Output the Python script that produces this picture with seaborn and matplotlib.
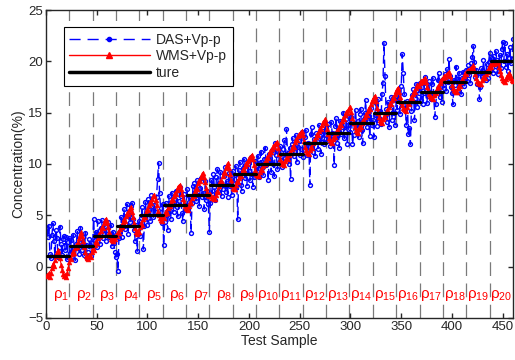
import numpy as np
import pandas as pd
import seaborn as sns
import matplotlib.pyplot as plt
from matplotlib.lines import Line2D

# segment length and true concentration levels
seg_len = 23
levels = list(range(1, 21))

# WMS+Vp-p predictions, one row per segment
wms = [
    [-0.8, -0.9, -0.6, -1.0, -0.6, -0.1, 0.3, 0.1, 0.6, 1.0, 1.4, 1.6, 1.2, 0.8, 0.2, -0.3, -0.7, -0.9, -0.8, -1.0, -0.6, -0.1, 0.4],
    [0.9, 0.7, 1.2, 1.5, 1.3, 1.8, 2.1, 1.9, 2.4, 2.8, 3.1, 3.4, 3.0, 2.5, 1.9, 1.4, 1.0, 0.8, 0.7, 1.1, 0.9, 1.4, 1.8],
    [1.6, 2.1, 2.5, 2.3, 2.8, 3.2, 3.0, 3.5, 3.9, 3.8, 4.2, 4.5, 4.6, 4.3, 3.9, 3.4, 3.0, 2.7, 2.6, 2.5, 2.9, 2.7, 3.1],
    [3.0, 3.4, 3.3, 3.7, 4.0, 3.9, 4.3, 4.6, 4.4, 4.9, 5.2, 5.1, 5.5, 5.7, 5.8, 5.3, 4.8, 4.2, 3.8, 3.4, 3.2, 3.5, 3.4],
    [3.9, 4.2, 4.1, 4.6, 4.9, 4.8, 5.3, 5.6, 5.5, 6.0, 6.3, 6.2, 6.6, 6.9, 7.0, 6.5, 6.0, 5.4, 5.0, 4.7, 4.5, 4.4, 4.8],
    [4.7, 5.1, 5.4, 5.2, 5.7, 6.0, 5.9, 6.3, 6.6, 6.5, 6.9, 7.2, 7.1, 7.5, 7.8, 7.9, 8.0, 7.6, 7.1, 6.6, 6.2, 5.9, 5.7],
    [5.6, 5.5, 5.9, 6.3, 6.2, 6.7, 7.0, 6.9, 7.4, 7.7, 7.6, 8.1, 8.4, 8.3, 8.7, 9.0, 9.1, 8.7, 8.2, 7.7, 7.3, 7.0, 6.9],
    [7.1, 6.9, 6.7, 6.8, 6.6, 6.6, 7.0, 7.4, 7.3, 7.9, 8.3, 8.2, 8.8, 9.2, 9.1, 9.6, 9.9, 10.1, 9.6, 9.0, 8.4, 8.0, 7.7],
    [7.6, 7.6, 8.0, 8.3, 8.2, 8.6, 8.9, 8.8, 9.2, 9.5, 9.4, 9.8, 10.1, 10.0, 10.3, 10.6, 10.5, 10.8, 10.9, 10.5, 9.9, 9.4, 9.0],
    [8.9, 8.8, 8.8, 9.2, 9.5, 9.4, 9.8, 10.1, 10.0, 10.4, 10.7, 10.6, 11.0, 11.3, 11.2, 11.5, 11.8, 11.7, 11.9, 12.0, 12.1, 11.6, 11.0],
    [10.5, 10.2, 10.0, 10.1, 9.9, 10.3, 10.6, 10.5, 10.9, 11.2, 11.1, 11.5, 11.8, 11.7, 12.1, 12.4, 12.3, 12.7, 12.9, 12.8, 13.1, 13.2, 12.8],
    [12.2, 11.7, 11.4, 11.2, 11.1, 11.0, 11.4, 11.7, 11.6, 12.0, 12.3, 12.2, 12.6, 12.9, 12.8, 13.2, 13.5, 13.4, 13.8, 14.1, 14.2, 14.4, 14.0],
    [13.4, 12.9, 12.5, 12.3, 12.1, 12.0, 12.4, 12.7, 12.6, 13.0, 13.3, 13.2, 13.6, 13.9, 13.8, 14.2, 14.5, 14.4, 14.8, 15.1, 15.0, 15.3, 15.5],
    [15.6, 15.1, 14.5, 14.0, 13.6, 13.3, 13.1, 13.0, 13.4, 13.7, 13.6, 14.0, 14.3, 14.2, 14.6, 14.9, 14.8, 15.2, 15.5, 15.4, 15.8, 16.1, 16.3],
    [16.5, 16.6, 16.1, 15.5, 15.0, 14.6, 14.3, 14.1, 14.0, 14.4, 14.7, 14.6, 15.0, 15.3, 15.2, 15.6, 15.9, 15.8, 16.2, 16.5, 16.4, 16.8, 17.1],
    [17.3, 17.4, 17.0, 16.5, 16.0, 15.7, 15.5, 15.4, 15.3, 15.2, 15.6, 15.9, 15.8, 16.2, 16.5, 16.4, 16.8, 17.1, 17.0, 17.4, 17.7, 17.6, 17.9],
    [18.1, 18.0, 18.2, 18.3, 18.4, 18.0, 17.5, 17.1, 16.8, 16.6, 16.5, 16.4, 16.3, 16.7, 17.0, 16.9, 17.3, 17.6, 17.5, 17.9, 18.2, 18.1, 18.4],
    [18.6, 18.5, 18.7, 18.8, 18.9, 19.0, 18.6, 18.1, 17.7, 17.4, 17.2, 17.1, 17.0, 17.0, 17.4, 17.7, 17.6, 18.0, 18.3, 18.2, 18.6, 18.9, 18.8],
    [19.1, 19.2, 19.1, 19.3, 19.4, 19.5, 19.6, 19.2, 18.8, 18.4, 18.1, 17.9, 17.9, 17.8, 17.8, 18.2, 18.5, 18.4, 18.8, 19.1, 19.0, 19.4, 19.6],
    [19.5, 19.7, 19.8, 19.7, 19.8, 19.9, 19.8, 19.9, 19.5, 19.1, 18.7, 18.4, 18.2, 18.1, 18.0, 18.3, 18.6, 18.5, 18.9, 18.7, 18.4, 18.2, 18.1],
]

# DAS+Vp-p predictions, one row per segment
das = [
    [3.8, 2.9, 4.0, 1.2, 0.8, 3.1, 4.2, 2.5, 1.0, 3.6, 2.8, 0.9, 1.5, 3.9, 2.2, 1.1, 2.7, 3.0, 1.6, 2.9, 0.7, 2.4, 2.8],
    [1.3, 2.6, 1.0, 3.1, 1.8, 0.6, 2.2, 3.5, 2.0, 1.2, 3.8, 2.4, 1.6, 2.9, 1.1, 3.3, 2.1, 0.8, 1.4, 2.7, 1.0, 2.3, 1.9],
    [4.6, 2.6, 3.4, 1.9, 4.4, 3.0, 2.2, 3.8, 4.5, 2.8, 3.2, 4.0, 2.5, 3.6, 4.3, 2.9, 3.1, 4.1, 2.0, 3.4, 2.3, 1.4, 0.9],
    [1.2, -0.4, 2.8, 3.5, 4.8, 2.9, 4.4, 5.6, 3.7, 4.9, 6.1, 3.2, 5.0, 4.3, 5.9, 6.2, 4.6, 3.6, 2.5, 4.1, 1.5, 3.2, 4.4],
    [3.0, 4.7, 5.8, 1.7, 4.0, 6.3, 5.2, 4.1, 6.6, 5.5, 4.4, 7.0, 5.9, 4.8, 6.0, 5.3, 6.8, 8.5, 10.1, 7.2, 5.7, 4.2, 6.1],
    [2.1, 4.3, 6.2, 5.0, 3.6, 6.9, 5.4, 4.6, 7.2, 6.1, 5.3, 6.6, 7.4, 5.8, 4.9, 6.4, 7.8, 6.9, 5.2, 4.4, 7.1, 6.0, 5.5],
    [7.6, 5.8, 6.3, 6.7, 3.3, 6.2, 7.9, 8.1, 7.3, 6.4, 8.4, 7.0, 5.9, 7.7, 8.6, 6.8, 7.2, 5.6, 8.3, 6.5, 7.4, 6.1, 3.4],
    [6.2, 8.4, 7.1, 9.0, 7.8, 6.5, 8.7, 9.5, 7.4, 8.1, 9.2, 6.9, 7.6, 8.8, 9.7, 7.3, 8.3, 6.8, 9.1, 7.9, 8.5, 7.0, 9.3],
    [7.7, 8.9, 9.8, 8.2, 4.6, 9.4, 10.2, 8.0, 7.4, 9.6, 10.5, 8.6, 9.1, 7.9, 10.0, 9.3, 8.4, 10.7, 9.0, 7.8, 8.7, 10.3, 9.5],
    [9.3, 10.8, 8.7, 10.1, 11.2, 9.6, 8.9, 10.5, 11.6, 9.9, 10.3, 8.4, 11.0, 10.6, 9.2, 11.4, 10.0, 8.8, 12.0, 10.9, 9.5, 11.3, 10.2],
    [11.8, 10.4, 9.7, 11.5, 12.3, 10.6, 13.4, 11.1, 10.0, 11.6, 8.5, 11.9, 12.5, 10.8, 11.3, 12.8, 10.2, 11.7, 12.2, 10.9, 11.5, 13.1, 10.7],
    [11.4, 12.6, 13.3, 10.9, 12.0, 11.7, 8.0, 12.9, 13.6, 11.2, 12.4, 10.8, 13.0, 12.2, 11.5, 13.8, 12.7, 11.0, 12.5, 13.2, 11.9, 14.0, 12.8],
    [12.2, 13.9, 12.6, 11.8, 14.1, 13.0, 12.4, 9.9, 13.7, 14.5, 12.0, 13.3, 11.6, 14.2, 12.9, 13.6, 15.0, 12.5, 13.2, 14.4, 11.9, 13.8, 14.7],
    [13.1, 14.6, 11.9, 12.8, 14.0, 15.3, 13.5, 14.2, 12.6, 14.9, 15.4, 13.3, 12.0, 14.4, 15.0, 16.2, 13.6, 15.0, 14.7, 12.7, 15.5, 13.8, 14.3],
    [12.6, 14.8, 15.9, 13.7, 16.3, 14.5, 15.2, 13.9, 16.8, 17.9, 21.8, 18.6, 15.4, 14.1, 16.0, 13.6, 15.7, 16.5, 14.3, 16.4, 15.0, 13.8, 16.2],
    [15.3, 17.1, 16.4, 14.9, 17.6, 20.7, 18.9, 16.8, 15.5, 13.8, 16.1, 12.9, 13.5, 11.9, 15.2, 16.7, 17.3, 14.3, 16.0, 17.8, 15.6, 16.9, 17.9],
    [16.2, 17.5, 15.8, 16.9, 18.5, 17.2, 15.9, 16.6, 18.1, 17.0, 16.3, 17.8, 18.4, 16.7, 14.6, 15.8, 17.1, 18.2, 18.9, 16.5, 17.6, 16.0, 18.3],
    [17.4, 18.8, 17.1, 19.3, 18.0, 20.2, 18.6, 17.5, 16.9, 15.8, 18.2, 17.7, 19.5, 18.3, 17.2, 18.9, 17.8, 16.8, 18.4, 19.0, 17.6, 18.5, 19.2],
    [18.1, 19.6, 18.7, 17.9, 19.8, 20.4, 21.5, 19.9, 18.5, 19.2, 17.8, 18.9, 16.3, 17.5, 19.4, 18.6, 20.1, 19.0, 18.2, 19.7, 18.4, 19.9, 20.8],
    [19.6, 20.3, 18.9, 20.5, 19.2, 21.0, 20.1, 18.8, 19.7, 20.6, 19.4, 21.2, 21.9, 20.0, 21.8, 19.5, 20.7, 19.1, 20.3, 21.4, 19.8, 20.2, 22.2],
]

n = seg_len * len(levels)
sample = np.arange(1, n + 1)
seg_id = np.repeat(np.arange(len(levels)), seg_len)

df = pd.DataFrame({
    "sample": sample,
    "seg": seg_id,
    "das": np.concatenate(das),
    "wms": np.concatenate(wms),
    "ture": np.repeat(levels, seg_len),
})

sns.set_style("ticks")
plt.rcParams["font.family"] = ["Liberation Sans", "DejaVu Sans"]
plt.rcParams["mathtext.fontset"] = "custom"
plt.rcParams["mathtext.rm"] = "Liberation Sans"
plt.rcParams["mathtext.it"] = "Liberation Sans"

fig = plt.figure(figsize=(5.15, 3.6), dpi=100)
ax = fig.add_axes([0.089, 0.117, 0.907, 0.855])

# segment boundaries
for k in range(1, len(levels)):
    ax.axvline(seg_len * k, color="#7a7a7a", lw=0.9, linestyle=(0, (11, 6)), zorder=0)

sns.lineplot(data=df, x="sample", y="das", ax=ax, estimator=None, color="blue",
             lw=1, linestyle=(0, (6, 3)), marker="o", markersize=2.8,
             markerfacecolor="none", markeredgecolor="blue", markeredgewidth=1.0, zorder=2)
sns.lineplot(data=df, x="sample", y="wms", ax=ax, estimator=None, color="red",
             lw=0.8, marker="^", markersize=3.5, markerfacecolor="red",
             markeredgecolor="red", markeredgewidth=0.4, zorder=3)
sns.lineplot(data=df, x="sample", y="ture", units="seg", ax=ax, estimator=None,
             color="black", lw=2.3, zorder=4)

# rho labels under each segment
for k in range(1, len(levels) + 1):
    ax.text(seg_len * k - 0.3, -2.8, "ρ$_{%d}$" % k, color="red", fontsize=11,
            ha="right", va="center")

ax.set_xlim(0, 460)
ax.set_ylim(-5, 25)
ax.set_xticks(range(0, 451, 50))
ax.set_yticks(range(-5, 26, 5))
ax.tick_params(direction="in", length=3.5, width=1, labelsize=9.5, top=True, right=True, pad=2)
for s in ax.spines.values():
    s.set_linewidth(1)
ax.set_xlabel("Test Sample", fontsize=10, labelpad=1)
ax.set_ylabel("Concentration(%)", fontsize=10, labelpad=2)

handles = [
    Line2D([], [], color="blue", lw=1, linestyle=(0, (8, 5)), marker="o", markersize=3,
           markerfacecolor="blue", markeredgecolor="blue"),
    Line2D([], [], color="red", lw=1, marker="^", markersize=4, markerfacecolor="red",
           markeredgecolor="red"),
    Line2D([], [], color="black", lw=2.5),
]
leg = ax.legend(handles, ["DAS+Vp-p", "WMS+Vp-p", "ture"], loc="upper left",
                bbox_to_anchor=(0.038, 0.945), fontsize=10, handlelength=5.8,
                handletextpad=0.45, fancybox=False, framealpha=1, edgecolor="black",
                borderpad=0.4, labelspacing=0.2, borderaxespad=0)
leg.get_frame().set_linewidth(0.8)

fig.savefig("out.png", dpi=100)
